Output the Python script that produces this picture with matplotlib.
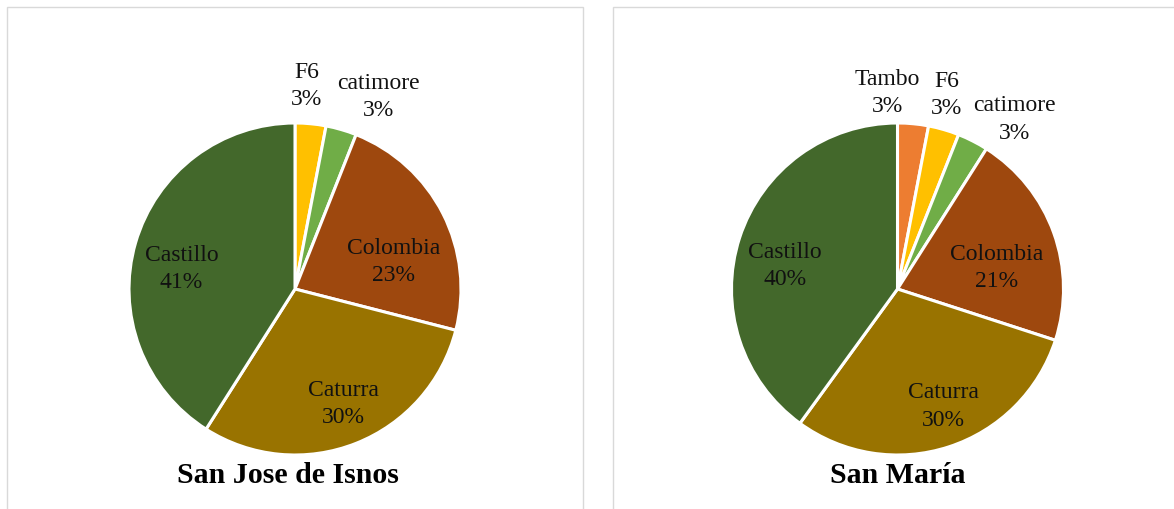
import matplotlib
matplotlib.use("Agg")
import matplotlib.pyplot as plt
from matplotlib.patches import Rectangle

plt.rcParams['font.family'] = ['Liberation Serif', 'DejaVu Serif']

# variety shares (%) per municipality, clockwise from 12 o'clock
isnos_names = ['F6', 'catimore', 'Colombia', 'Caturra', 'Castillo']
isnos_pct = [3, 3, 23, 30, 41]

maria_names = ['Tambo', 'F6', 'catimore', 'Colombia', 'Caturra', 'Castillo']
maria_pct = [3, 3, 3, 21, 30, 40]

titles = ['San Jose de Isnos', 'San María']

colors = {
    'Tambo': '#ED7D31',
    'F6': '#FFC000',
    'catimore': '#70AD47',
    'Colombia': '#9E480E',
    'Caturra': '#997300',
    'Castillo': '#43682B',
}

# where each data label sits, in units of the pie radius
isnos_lbl = [(0.069, 1.229), (0.50, 1.16), (0.595, 0.166), (0.293, -0.687), (-0.683, 0.127)]
maria_lbl = [(-0.063, 1.187), (0.298, 1.175), (0.702, 1.027), (0.598, 0.13),
             (0.274, -0.702), (-0.678, 0.142)]

W, H = 1174, 510
fig = plt.figure(figsize=(W / 100, H / 100), dpi=100)

# light frames around each chart area
for x0, x1 in [(6.5, 582.5), (612.5, 1200)]:
    fig.patches.append(Rectangle((x0 / W, -0.1), (x1 - x0) / W, (H - 7.5) / H + 0.1,
                                 transform=fig.transFigure, fill=False,
                                 edgecolor='#D9D9D9', linewidth=1.0))

R = 166
cy = 290
for cx, names, pct, lbl, title in [(295, isnos_names, isnos_pct, isnos_lbl, titles[0]),
                                   (897.5, maria_names, maria_pct, maria_lbl, titles[1])]:
    ax = fig.add_axes([(cx - R) / W, (H - cy - R) / H, 2 * R / W, 2 * R / H])
    ax.pie(pct, colors=[colors[n] for n in names], startangle=90, counterclock=False,
           radius=1, wedgeprops=dict(edgecolor='white', linewidth=2.2))
    ax.set_xlim(-1, 1)
    ax.set_ylim(-1, 1)
    ax.set_aspect('equal')
    ax.axis('off')
    for n, p, (lx, ly) in zip(names, pct, lbl):
        ax.text(lx, ly, f'{n}\n{p}%', ha='center', va='center', fontsize=17,
                color='#111111', linespacing=1.38, clip_on=False)
    fig.text((cx - 7 if cx < 500 else cx) / W, (H - 476) / H, title, ha='center', va='center',
             fontsize=21.5, fontweight='bold', color='black')

fig.savefig('out.png', dpi=100)
